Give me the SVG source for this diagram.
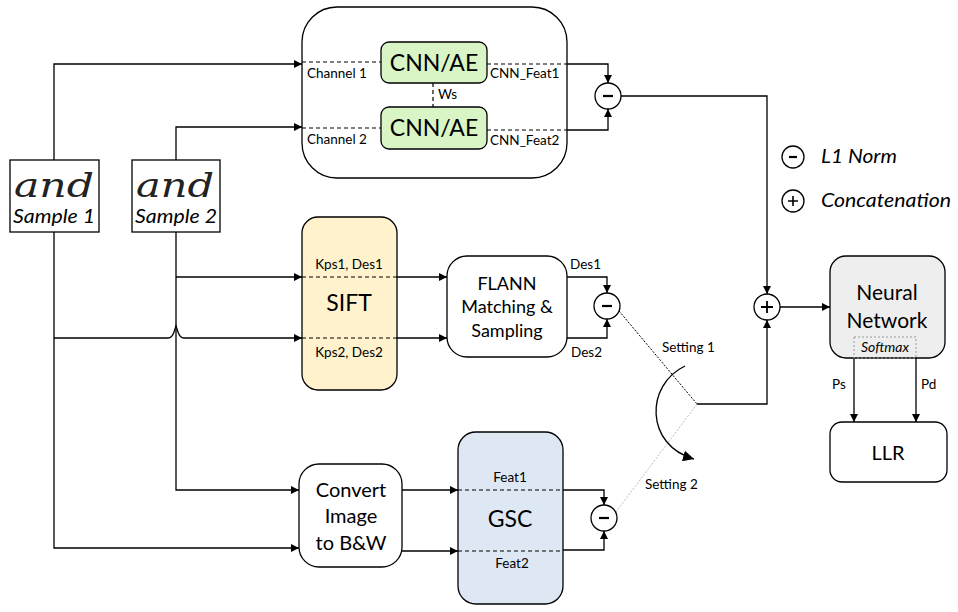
<svg xmlns="http://www.w3.org/2000/svg" width="958" height="612" viewBox="0 0 958 612">
<defs>
<marker id="arr" viewBox="0 0 10 10" refX="10" refY="5" markerWidth="8" markerHeight="8" markerUnits="userSpaceOnUse" orient="auto"><path d="M0,0 L10,5 L0,10 z" fill="#000"/></marker>
<marker id="arr2" viewBox="0 0 10 10" refX="10" refY="5" markerWidth="11" markerHeight="11" markerUnits="userSpaceOnUse" orient="auto"><path d="M0,0 L10,5 L0,10 z" fill="#000"/></marker>
</defs>
<style>
text{font-family:Lato,"Open Sans","Liberation Sans",sans-serif;fill:#000}
.box{fill:#fff;stroke:#000;stroke-width:1.3}
.ln{fill:none;stroke:#000;stroke-width:1.3}
.dash{fill:none;stroke:#000;stroke-width:1.2;stroke-dasharray:4,3}
.lbl{font-size:13.5px}
.big{font-size:23px;text-anchor:middle}
.mid{font-size:20px;text-anchor:middle}
.op{fill:#fff;stroke:#000;stroke-width:1.3}
.sym{fill:none;stroke:#000;stroke-width:2.2}
.hand{font-family:"DejaVu Serif","Liberation Serif",serif;font-style:italic;font-weight:200;font-size:34px;fill:#222}
.samp{font-style:italic;font-size:19px;text-anchor:middle}
</style>
<rect width="958" height="612" fill="#fff"/>

<g id="connectors">
<path class="ln" d="M54,160 V64 H302" marker-end="url(#arr)"/>
<path class="ln" d="M176,160 V127 H302" marker-end="url(#arr)"/>
<path class="ln" d="M54,232 V548 H299" marker-end="url(#arr)"/>
<path class="ln" d="M176,232 V490 H299" marker-end="url(#arr)"/>
<path class="ln" d="M176,277 H302" marker-end="url(#arr)"/>
<path class="ln" d="M54,338 H168 Q172,338 174,332 L176,326 L178,332 Q180,338 184,338 H302" marker-end="url(#arr)"/>
<path class="ln" d="M567,64 H608 V83" marker-end="url(#arr)"/>
<path class="ln" d="M567,130 H608 V109" marker-end="url(#arr)"/>
<path class="ln" d="M621,96 H767 V294" marker-end="url(#arr)"/>
<path class="ln" d="M397,277 H447" marker-end="url(#arr)"/>
<path class="ln" d="M397,338 H447" marker-end="url(#arr)"/>
<path class="ln" d="M567,277 H607 V293" marker-end="url(#arr)"/>
<path class="ln" d="M567,338 H607 V319" marker-end="url(#arr)"/>
<path fill="none" stroke="#000" stroke-width="1" stroke-dasharray="2,1.5" d="M619,311 L697,404"/>
<path fill="none" stroke="#bbb" stroke-width="1" stroke-dasharray="2,1.5" d="M697,404 L616,512"/>
<path class="ln" d="M697,404 H767 V320" marker-end="url(#arr)"/>
<path class="ln" d="M685,366 C645,385 645,445 694,459" marker-end="url(#arr2)"/>
<path class="ln" d="M780,307 H830" marker-end="url(#arr)"/>
<path class="ln" d="M402,490 H458" marker-end="url(#arr)"/>
<path class="ln" d="M402,551 H458" marker-end="url(#arr)"/>
<path class="ln" d="M563,490 H604 V505" marker-end="url(#arr)"/>
<path class="ln" d="M563,550 H604 V531" marker-end="url(#arr)"/>
<path class="ln" d="M854,358 V422" marker-end="url(#arr)"/>
<path class="ln" d="M916,358 V422" marker-end="url(#arr)"/>
<text class="lbl" x="662" y="352">Setting 1</text>
<text class="lbl" x="645" y="489">Setting 2</text>
<text class="lbl" x="832" y="389">Ps</text>
<text class="lbl" x="921" y="389">Pd</text>
</g>

<g id="sample1">
<rect class="box" x="10" y="160" width="89" height="72"/>
<text class="hand" x="14" y="197" textLength="80" lengthAdjust="spacingAndGlyphs">and</text>
<text class="samp" x="54" y="223" textLength="82" lengthAdjust="spacingAndGlyphs">Sample 1</text>
</g>
<g id="sample2">
<rect class="box" x="132" y="160" width="88" height="72"/>
<text class="hand" x="136" y="197" textLength="78" lengthAdjust="spacingAndGlyphs">and</text>
<text class="samp" x="176" y="223" textLength="82" lengthAdjust="spacingAndGlyphs">Sample 2</text>
</g>

<g id="cnn">
<rect class="box" x="302" y="7" width="265" height="171" rx="35"/>
<path class="dash" d="M302,62 H381"/>
<path class="dash" d="M302,128 H381"/>
<path class="dash" d="M487,64 H567"/>
<path class="dash" d="M487,130 H567"/>
<path class="dash" d="M433,83 V107"/>
<rect x="381" y="42" width="106" height="41" rx="8" fill="#d9f5c6" stroke="#000" stroke-width="1.3"/>
<rect x="381" y="107" width="106" height="42" rx="8" fill="#d9f5c6" stroke="#000" stroke-width="1.3"/>
<text class="big" x="434" y="71">CNN/AE</text>
<text class="big" x="434" y="136">CNN/AE</text>
<text class="lbl" x="307" y="78">Channel 1</text>
<text class="lbl" x="307" y="144">Channel 2</text>
<text class="lbl" x="490" y="78">CNN_Feat1</text>
<text class="lbl" x="490" y="145">CNN_Feat2</text>
<text class="lbl" x="438" y="99">Ws</text>
</g>
<g id="l1-cnn">
<circle class="op" cx="608" cy="96" r="13"/>
<path class="sym" d="M603,96 H613"/>
</g>

<g id="sift">
<rect x="302" y="217" width="95" height="173" rx="16" fill="#fff2cc" stroke="#000" stroke-width="1.3"/>
<path class="dash" d="M302,277 H397"/>
<path class="dash" d="M302,338 H397"/>
<text class="big" x="349" y="311">SIFT</text>
<text class="lbl" x="349" y="269" text-anchor="middle">Kps1, Des1</text>
<text class="lbl" x="349" y="357" text-anchor="middle">Kps2, Des2</text>
</g>
<g id="flann">
<rect class="box" x="447" y="256" width="120" height="101" rx="20"/>
<text class="mid" x="507" y="290" style="font-size:18px">FLANN</text>
<text class="mid" x="507" y="313" style="font-size:18px">Matching &amp;</text>
<text class="mid" x="507" y="337" style="font-size:18px">Sampling</text>
<text class="lbl" x="570" y="269">Des1</text>
<text class="lbl" x="571" y="357">Des2</text>
</g>
<g id="l1-sift">
<circle class="op" cx="607" cy="306" r="13"/>
<path class="sym" d="M602,306 H612"/>
</g>

<g id="convert">
<rect class="box" x="299" y="464" width="103" height="103" rx="20"/>
<text class="mid" x="351" y="497">Convert</text>
<text class="mid" x="351" y="523">Image</text>
<text class="mid" x="351" y="550">to B&amp;W</text>
</g>
<g id="gsc">
<rect x="458" y="432" width="105" height="172" rx="18" fill="#dee8f5" stroke="#000" stroke-width="1.3"/>
<path class="dash" d="M458,490 H563"/>
<path class="dash" d="M458,551 H563"/>
<text class="big" x="510" y="527">GSC</text>
<text class="lbl" x="510" y="482" text-anchor="middle">Feat1</text>
<text class="lbl" x="512" y="568" text-anchor="middle">Feat2</text>
</g>
<g id="l1-gsc">
<circle class="op" cx="604" cy="518" r="13"/>
<path class="sym" d="M599,518 H609"/>
</g>

<g id="concat">
<circle class="op" cx="767" cy="307" r="13"/>
<path class="ln" d="M761,307 H773 M767,301 V313" style="stroke-width:1.8"/>
</g>

<g id="legend">
<circle class="op" cx="793" cy="157" r="11"/>
<path class="sym" d="M789,157 H797"/>
<text x="821" y="163" style="font-size:19px;font-style:italic" textLength="76" lengthAdjust="spacingAndGlyphs">L1 Norm</text>
<circle class="op" cx="793" cy="201" r="11"/>
<path class="ln" d="M788,201 H798 M793,196 V206" style="stroke-width:1.6"/>
<text x="821" y="207" style="font-size:19px;font-style:italic" textLength="130" lengthAdjust="spacingAndGlyphs">Concatenation</text>
</g>

<g id="nn">
<rect x="830" y="256" width="115" height="102" rx="16" fill="#eeeeee" stroke="#000" stroke-width="1.3"/>
<text class="mid" x="887" y="300" style="font-size:21px">Neural</text>
<text class="mid" x="887" y="328" style="font-size:21px">Network</text>
<rect x="854" y="337" width="62" height="21" fill="none" stroke="#999" stroke-width="1" stroke-dasharray="2,2"/>
<text x="885" y="352" style="font-size:14px;font-style:italic;text-anchor:middle">Softmax</text>
</g>
<g id="llr">
<rect class="box" x="830" y="422" width="117" height="60" rx="12"/>
<text class="mid" x="888" y="460" style="font-size:20px">LLR</text>
</g>
</svg>
